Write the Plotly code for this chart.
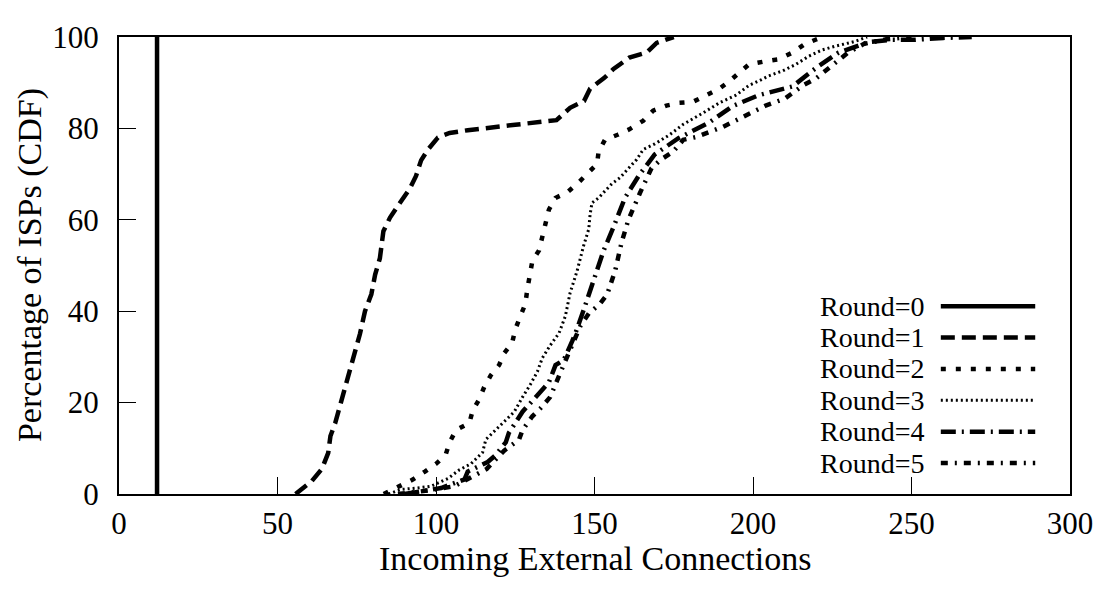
import plotly.graph_objects as go

# CDF data (x = incoming external connections, y = % of ISPs)
r0_x = [12, 12]
r0_y = [0, 100]

r1_x = [55.7, 60.8, 64, 66, 66.7, 68.2, 70.8, 73, 75, 76, 77.6, 79.6, 80.8, 82.3, 83.4, 85.5,
        88.6, 91.7, 93.7, 95.3, 97.5, 100.6, 104.3, 110, 125, 138, 142.3, 146.7, 148.6, 153,
        156, 161, 166.5, 169.6, 175]
r1_y = [0, 2.8, 5.5, 9, 12.7, 15.5, 22, 27.6, 31.8, 35, 40, 43.7, 48, 51.6, 57.5, 60.5,
        63.7, 66.8, 69.6, 73, 75.4, 78, 79, 79.6, 80.8, 81.8, 84.5, 86, 88.7, 91,
        93, 95.5, 96.6, 98.7, 100]

r2_x = [83.5, 88.6, 92.8, 96.5, 100, 103, 104.3, 106.3, 110.5, 111.6, 113.7, 115.2, 117.3, 119.9,
        121.5, 124, 125, 126.6, 128.2, 128.8, 129.8, 130.4, 132.5, 133.5, 134.5, 135.6, 137.7,
        141.4, 145, 147.6, 150.8, 151.3, 153.3, 157.3, 161, 165.4, 168.5, 172.7, 176.8, 181,
        185.3, 189.4, 192.5, 195.6, 198.7, 204, 208, 212.5, 216, 219.7, 222]
r2_y = [0, 1.7, 3.2, 4.9, 6.6, 8.5, 11.3, 14, 15.5, 18.3, 20.8, 23.4, 26, 28.2,
        30.8, 33, 36, 38.9, 41.6, 44.8, 48, 51, 53.3, 56.5, 59, 62.2, 64.8,
        66, 68.2, 70, 72.2, 74.9, 77.5, 78.6, 79.8, 81.7, 83.9, 85, 85.6, 85.8,
        87.3, 88.7, 90.3, 92.3, 94, 94.7, 95.1, 96.6, 98.3, 99.4, 100]

r3_x = [85, 89, 94, 98.4, 103.8, 107.4, 111, 114.7, 115.7, 118.8, 122, 124.7, 127.3, 129.8, 132,
        133.5, 136, 138.8, 140.8, 142.3, 144.5, 145.5, 146.6, 148.2, 148.6, 149.2, 151.3, 152.9,
        155.5, 158, 160.7, 163.3, 165.4, 169, 173.7, 178, 184.3, 189.4, 194.7, 198.7, 201.9,
        205, 209.4, 213.5, 217.6, 221.9, 226, 232, 236]
r3_y = [0, 1, 1.3, 1.7, 3.4, 5.3, 6.6, 9.1, 11.9, 14, 16.1, 18, 21.2, 24, 26.8,
        29.7, 32.5, 35.2, 38.9, 44, 48.8, 51.6, 54.4, 58, 61.1, 63.7, 64.8, 66,
        67.9, 69.2, 71.3, 73.2, 75.4, 76.6, 78.6, 80.9, 83.4, 85.6, 87.3, 89.4, 90.4,
        91.5, 92.6, 94, 95.8, 97.2, 98, 99, 100]

r4_x = [90, 101.6, 109, 110, 116.3, 118.8, 122, 123, 127.3, 132.9, 135.6, 137.7, 140.3, 143, 144,
        146.6, 149.7, 152.9, 156, 159.6, 164.3, 169, 176.6, 186.2, 193.6, 201.9, 212.5, 220,
        227, 236.4, 244, 251, 260, 269]
r4_y = [0, 1.3, 3.2, 4.9, 7, 8.5, 11.3, 13.4, 18, 22.5, 24.4, 28.2, 29.3, 33.5, 35.2,
        40.3, 46.9, 53.3, 58.4, 64.8, 70, 74.3, 77.9, 81.3, 84.9, 87.3, 89.2, 93.3,
        96.6, 98.9, 99.4, 99.4, 99.8, 100]

r5_x = [88, 98, 105.8, 110, 116, 121.5, 126.2, 127.3, 130.4, 132.9, 136, 139.2, 142.3, 145.5,
        148.2, 151.7, 154, 156.5, 158.6, 160.7, 164.3, 168, 171, 174.8, 178, 182, 190.4, 197,
        204, 210, 216, 220, 226, 230, 235, 242, 250]
r5_y = [0, 0.8, 1.7, 3.2, 5.5, 9.5, 11.9, 14, 17, 18.7, 21.2, 26.5, 31.4, 36.7,
        39.5, 41.6, 43.7, 48.8, 55.2, 60, 65.8, 71.3, 73.2, 74.9, 77.5, 78.1, 80.3, 82.5,
        85, 86.5, 89.5, 91, 94.5, 96.6, 98.5, 99.5, 100]

names = ["Round=0", "Round=1", "Round=2", "Round=3", "Round=4", "Round=5"]
xs = [r0_x, r1_x, r2_x, r3_x, r4_x, r5_x]
ys = [r0_y, r1_y, r2_y, r3_y, r4_y, r5_y]

# gnuplot-like line styles
styles = [
    dict(width=4.5, dash="solid"),
    dict(width=4.5, dash="14px,7px"),
    dict(width=4.5, dash="5px,10px"),
    dict(width=3, dash="2px,3px"),
    dict(width=4.5, dash="15px,6px,2px,6px"),
    dict(width=4.5, dash="7px,7px,2px,7px"),
]

FONT = "Liberation Serif, Times New Roman, serif"
TICK_FS = 31
TITLE_FS = 34
KEY_FS = 28

fig = go.Figure()
for name, x, y, st in zip(names, xs, ys, styles):
    fig.add_trace(go.Scatter(x=x, y=y, mode="lines", name=name, showlegend=False,
                             line=dict(color="black", width=st["width"], dash=st["dash"])))

# plot box in screen pixels; the page adds an 8px body margin
OFF = 8
L, R, T, B = 119, 1076, 22, 494
W, H = R - L, B - T

# legend drawn by hand: text on the left, line sample on the right
row_y = [300, 332.4, 364.8, 397.2, 429.6, 462]
for name, st, py in zip(names, styles, row_y):
    yp = (B - py) / H
    fig.add_annotation(x=(930 - L) / W, y=yp, xref="paper", yref="paper", text=name,
                       showarrow=False, xanchor="right", yanchor="middle", borderpad=0,
                       font=dict(family=FONT, size=KEY_FS, color="black"))
    fig.add_shape(type="line", xref="paper", yref="paper",
                  x0=(946 - L) / W, x1=(1041 - L) / W, y0=yp, y1=yp,
                  line=dict(color="black", width=st["width"], dash=st["dash"]))

# axis titles
fig.add_annotation(x=0.5, y=-(561 - B) / H, xref="paper", yref="paper",
                   text="Incoming External Connections", showarrow=False,
                   xanchor="center", yanchor="middle",
                   font=dict(family=FONT, size=TITLE_FS, color="black"))
fig.add_annotation(x=-(L - 29) / W, y=(B - 258) / H, xref="paper", yref="paper",
                   text="Percentage of ISPs (CDF)", showarrow=False, textangle=-90,
                   xanchor="center", yanchor="middle",
                   font=dict(family=FONT, size=TITLE_FS, color="black"))

fig.update_layout(
    width=1113 - 2 * OFF, height=592 - 2 * OFF,
    margin=dict(l=L - OFF, r=1113 - OFF - R, t=T - OFF, b=592 - OFF - B),
    paper_bgcolor="white", plot_bgcolor="white",
    font=dict(family=FONT, size=TICK_FS, color="black"),
    showlegend=False,
)
fig.update_xaxes(range=[0, 300], tickvals=[0, 50, 100, 150, 200, 250, 300],
                 ticks="inside", ticklen=17, tickwidth=1.2, tickcolor="black",
                 showline=True, linecolor="black", linewidth=2, mirror=True,
                 showgrid=False, zeroline=False, ticklabelstandoff=1,
                 ticklabeloverflow="allow")
fig.update_yaxes(range=[0, 100], tickvals=[0, 20, 40, 60, 80, 100],
                 ticks="inside", ticklen=17, tickwidth=1.2, tickcolor="black",
                 showline=True, linecolor="black", linewidth=2, mirror=True,
                 showgrid=False, zeroline=False, ticklabelstandoff=12,
                 ticklabeloverflow="allow")

fig.write_html("out.html")
